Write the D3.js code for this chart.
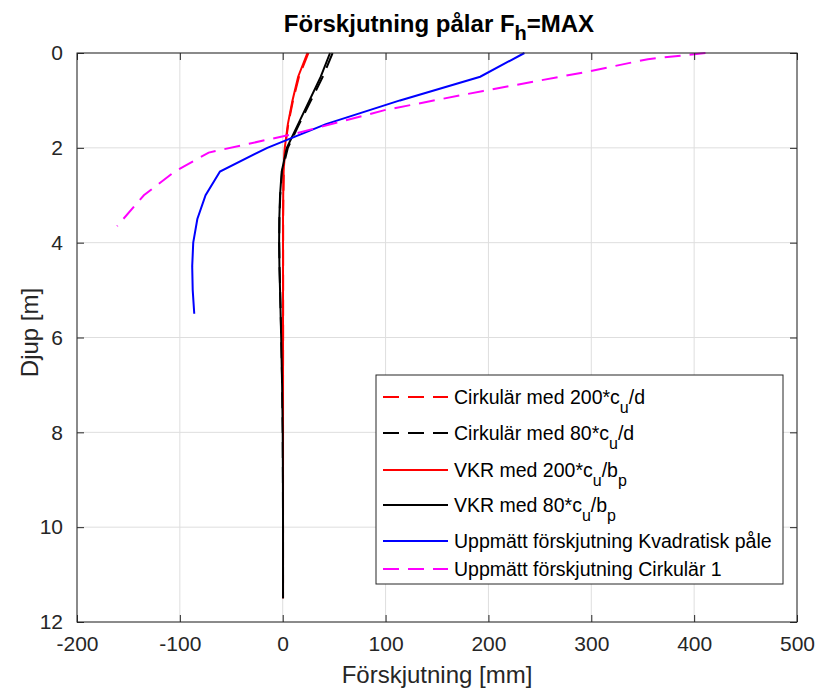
<!DOCTYPE html>
<html>
<head>
<meta charset="utf-8">
<script src="https://cdn.jsdelivr.net/npm/d3@7"></script>
<style>
  body { margin: 0; background: #fff; }
  text { font-family: "Liberation Sans", Arial, sans-serif; }
</style>
</head>
<body>
<svg width="816" height="690"></svg>
<script>
const width = 816;
const height = 690;
const margin = { top: 53, right: 19, bottom: 68, left: 77 };
const innerWidth = width - margin.left - margin.right;
const innerHeight = height - margin.top - margin.bottom;

// beräknade kurvor (djup i m, förskjutning i mm)
const depthCalc = [0, 0.5, 1, 1.5, 2, 2.5, 3, 3.5, 4, 4.5, 5, 6, 7, 8, 9, 10, 11, 11.5];
const cirk200 = [25, 15.8, 10, 5.4, 2.2, 1, 0.6, 0.4, 0.4, 0.4, 0.4, 0.4, 0.3, 0.3, 0.3, 0.3, 0.3, 0.3];
const cirk80 = [48.5, 39, 27.5, 16, 5, -0.6, -2.4, -3.2, -3.4, -3.1, -2.5, -1.4, -0.5, 0, 0.2, 0.3, 0.3, 0.3];
const vkr200 = [24, 15, 9.5, 5, 2, 0.9, 0.5, 0.3, 0.3, 0.3, 0.3, 0.3, 0.3, 0.3, 0.3, 0.3, 0.3, 0.3];
const vkr80 = [46, 37, 26, 15, 4, -1, -2.6, -3.3, -3.5, -3.2, -2.6, -1.5, -0.6, 0, 0.2, 0.3, 0.3, 0.3];

// uppmätta kurvor
const depthKvadr = [0, 0.5, 1, 1.5, 2, 2.5, 3, 3.5, 4, 4.5, 5, 5.5];
const kvadr = [235, 192, 114, 42, -15, -61, -75, -83, -87, -88, -87.5, -86];
const depthCirk1 = [0, 0.13, 0.4, 0.8, 1.2, 1.7, 2.1, 2.5, 3.0, 3.65];
const cirk1 = [411, 355, 295, 195, 100, 12, -72, -105, -135, -161];

const xTicks = [-200, -100, 0, 100, 200, 300, 400, 500];
const yTicks = [0, 2, 4, 6, 8, 10, 12];

const series = [
    { name: ["Cirkulär med 200*c", "u", "/d"], x: cirk200, d: depthCalc, color: "#ff0000", dash: "16,9" },
    { name: ["Cirkulär med 80*c", "u", "/d"], x: cirk80, d: depthCalc, color: "#000000", dash: "16,9" },
    { name: ["VKR med 200*c", "u", "/b", "p"], x: vkr200, d: depthCalc, color: "#ff0000", dash: null },
    { name: ["VKR med 80*c", "u", "/b", "p"], x: vkr80, d: depthCalc, color: "#000000", dash: null },
    { name: ["Uppmätt förskjutning Kvadratisk påle"], x: kvadr, d: depthKvadr, color: "#0000ff", dash: null },
    { name: ["Uppmätt förskjutning Cirkulär 1"], x: cirk1, d: depthCirk1, color: "#ff00ff", dash: "16,9" },
];

const axisColor = "#262626";

const svg = d3.select("svg");
const g = svg.append("g").attr("transform", `translate(${margin.left}, ${margin.top})`);

const x = d3.scaleLinear().domain([-200, 500]).range([0, innerWidth]);
const y = d3.scaleLinear().domain([0, 12]).range([0, innerHeight]);
const fmt = (d) => String(d); // vanligt bindestreck som i MATLAB

// rutnät
g.append("g")
    .selectAll("line")
    .data(xTicks)
    .join("line")
    .attr("x1", (d) => x(d)).attr("x2", (d) => x(d))
    .attr("y1", 0).attr("y2", innerHeight)
    .attr("stroke", "#dedede").attr("stroke-width", 1);
g.append("g")
    .selectAll("line")
    .data(yTicks)
    .join("line")
    .attr("y1", (d) => y(d)).attr("y2", (d) => y(d))
    .attr("x1", 0).attr("x2", innerWidth)
    .attr("stroke", "#dedede").attr("stroke-width", 1);

// kurvor
const line = d3.line().x((p) => x(p[0])).y((p) => y(p[1]));
g.selectAll("path.curve")
    .data(series)
    .join("path")
    .attr("class", "curve")
    .attr("d", (s) => line(s.x.map((v, i) => [v, s.d[i]])))
    .attr("fill", "none")
    .attr("stroke", (s) => s.color)
    .attr("stroke-width", 2)
    .attr("stroke-dasharray", (s) => s.dash);

// axlar
const styleAxis = (sel) => {
    sel.select(".domain").remove();
    sel.selectAll(".tick line").attr("stroke", axisColor);
    sel.selectAll(".tick text").attr("fill", axisColor).style("font-size", "21px");
};
const noLabels = (sel) => sel.selectAll(".tick text").remove();
g.append("g")
    .attr("transform", `translate(0, ${innerHeight})`)
    .call(d3.axisBottom(x).tickValues(xTicks).tickFormat(fmt).tickSizeInner(-7).tickSizeOuter(0).tickPadding(14))
    .call(styleAxis);
g.append("g")
    .call(d3.axisTop(x).tickValues(xTicks).tickSizeInner(-7).tickSizeOuter(0))
    .call(styleAxis)
    .call(noLabels);
g.append("g")
    .call(d3.axisLeft(y).tickValues(yTicks).tickFormat(fmt).tickSizeInner(-7).tickSizeOuter(0).tickPadding(14))
    .call(styleAxis);
g.append("g")
    .attr("transform", `translate(${innerWidth}, 0)`)
    .call(d3.axisRight(y).tickValues(yTicks).tickSizeInner(-7).tickSizeOuter(0))
    .call(styleAxis)
    .call(noLabels);

// ram
g.append("rect")
    .attr("width", innerWidth).attr("height", innerHeight)
    .attr("fill", "none").attr("stroke", axisColor).attr("stroke-width", 1);

// axeltitlar
svg.append("text")
    .attr("x", margin.left + innerWidth / 2).attr("y", 683)
    .attr("text-anchor", "middle").attr("fill", axisColor)
    .style("font-size", "24px")
    .text("Förskjutning [mm]");
svg.append("text")
    .attr("transform", `translate(38, ${margin.top + innerHeight / 2 - 5}) rotate(-90)`)
    .attr("text-anchor", "middle").attr("fill", axisColor)
    .style("font-size", "24px")
    .text("Djup [m]");

// titel
const title = svg.append("text")
    .attr("x", margin.left + innerWidth / 2 + 2).attr("y", 32)
    .attr("text-anchor", "middle").attr("fill", "#000")
    .style("font-size", "24px").style("font-weight", "bold");
title.append("tspan").text("Förskjutning pålar F");
title.append("tspan").attr("dy", 8).style("font-size", "20px").text("h");
title.append("tspan").attr("dy", -8).text("=MAX");

// legend
const legX = 376, legY = 375, legW = 407, legH = 209;
const legRows = [397, 433, 470, 505, 541, 569];
const leg = svg.append("g");
leg.append("rect")
    .attr("x", legX).attr("y", legY).attr("width", legW).attr("height", legH)
    .attr("fill", "#fff").attr("stroke", axisColor).attr("stroke-width", 1);
series.forEach((s, i) => {
    const ly = legRows[i];
    leg.append("line")
        .attr("x1", 383).attr("x2", 448).attr("y1", ly).attr("y2", ly)
        .attr("stroke", s.color).attr("stroke-width", 2)
        .attr("stroke-dasharray", s.dash);
    const t = leg.append("text")
        .attr("x", 454).attr("y", ly + 7)
        .attr("fill", "#000").style("font-size", "19.5px");
    s.name.forEach((part, j) => {
        if (j % 2 === 1) {
            t.append("tspan").attr("dy", 9).style("font-size", "16px").text(part);
        } else {
            t.append("tspan").attr("dy", j === 0 ? 0 : -9).text(part);
        }
    });
});
</script>
</body>
</html>
